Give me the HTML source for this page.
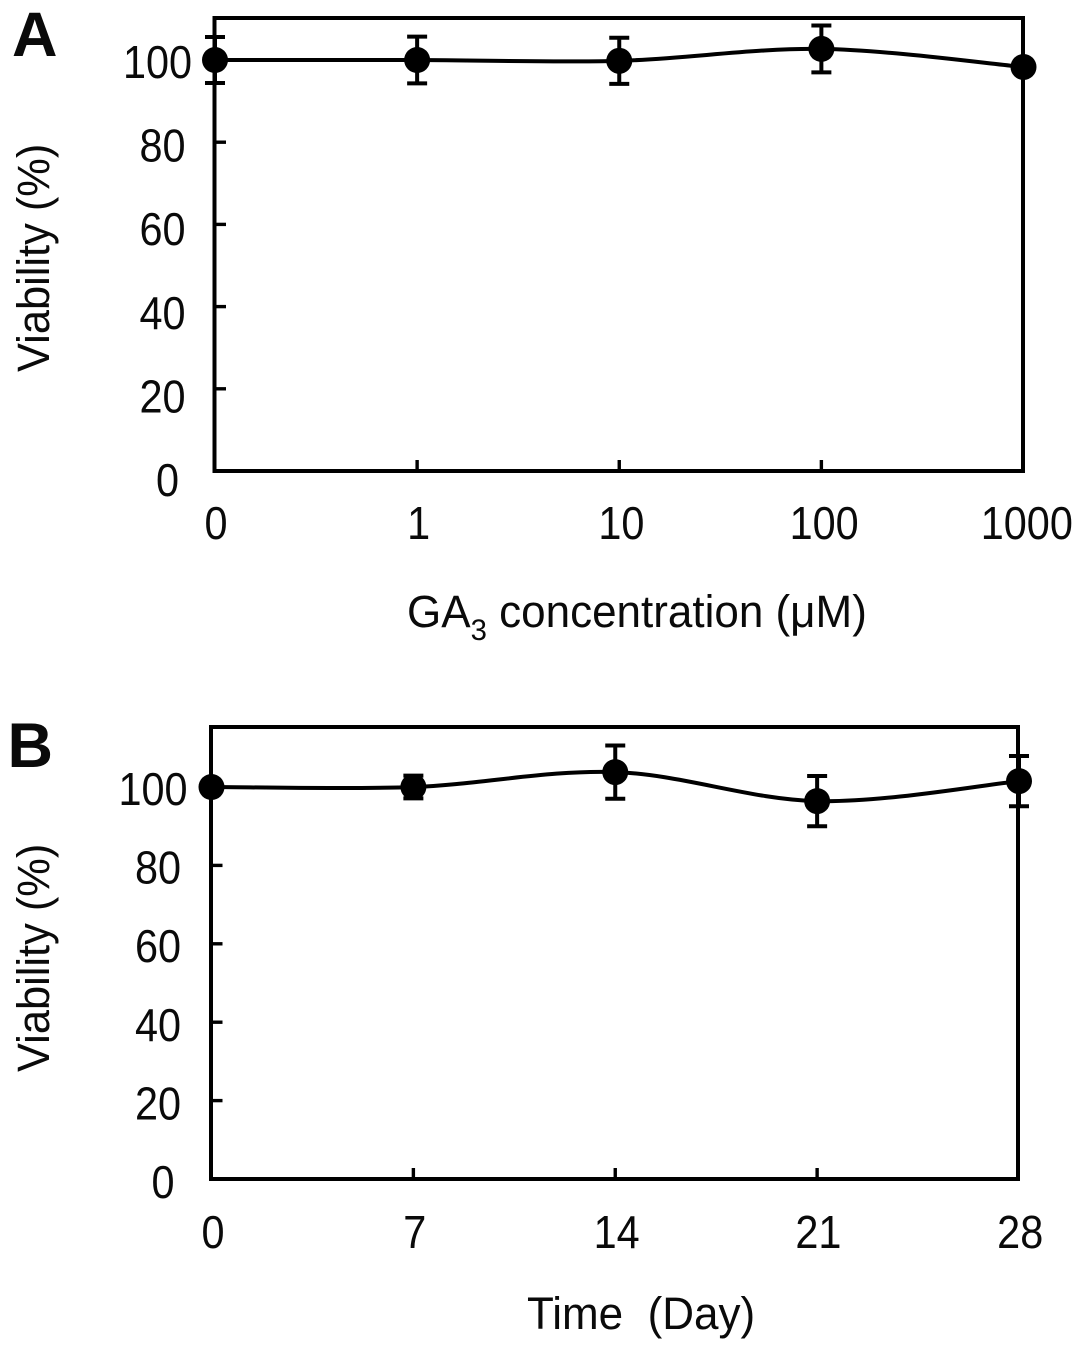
<!DOCTYPE html>
<html lang="en">
<head>
<meta charset="utf-8">
<title>Viability charts</title>
<style>
html,body{margin:0;padding:0;background:#fff;}
svg{display:block;}
text{font-family:"Liberation Sans",sans-serif;fill:#0a0a0a;}
</style>
</head>
<body>
<svg id="figure" xmlns="http://www.w3.org/2000/svg" width="1087" height="1350" viewBox="0 0 1087 1350">
  <rect x="0" y="0" width="1087" height="1350" fill="#fff"/>
  <text x="12" y="56" font-size="63" font-weight="700">A</text>
  <text x="7.5" y="767" font-size="63" font-weight="700">B</text>
  <text transform="translate(49,372) rotate(-90) scale(0.965,1)" font-size="45">Viability (%)</text>
  <text transform="translate(49,1072) rotate(-90) scale(0.965,1)" font-size="45">Viability (%)</text>
  <text transform="translate(407,627) scale(0.978,1)" font-size="45">GA<tspan font-size="30" dy="13">3</tspan><tspan dy="-13"> concentration (μM)</tspan></text>
  <text transform="translate(527,1329) scale(0.978,1)" font-size="45" xml:space="preserve">Time  (Day)</text>
  <rect x="214.5" y="18" width="808.5" height="453" fill="none" stroke="#000" stroke-width="4"/>
  <rect x="211" y="727" width="807" height="452" fill="none" stroke="#000" stroke-width="4"/>
  <g id="panel-a"></g>
  <g id="panel-b"></g>
</svg>
<script>
const panelACategories = ["0", "1", "10", "100", "1000"];
const panelAValues = [100, 100, 99.8, 102.7, 98.3];
const panelAErrors = [5.6, 5.7, 5.6, 5.7, 0];
const panelBCategories = ["0", "7", "14", "21", "28"];
const panelBValues = [100, 100, 103.8, 96.4, 101.5];
const panelBErrors = [0, 2.9, 6.8, 6.4, 6.4];
const yTickValues = [0, 20, 40, 60, 80, 100];

const SVG_NS = "http://www.w3.org/2000/svg";

function create(parent, tag, attrs) {
  const el = document.createElementNS(SVG_NS, tag);
  for (const key in attrs) el.setAttribute(key, attrs[key]);
  parent.appendChild(el);
  return el;
}

function drawPanel(panel) {
  const root = document.getElementById(panel.id);
  const values = panel.values;
  const errors = panel.errors;
  const categories = panel.categories;
  const xStep = (panel.right - panel.left) / (categories.length - 1);
  const xScale = i => panel.left + i * xStep;
  const yScale = v => panel.bottom - v * panel.unit;
  const yLabelBaseline = v => panel.labelZero - v * panel.labelUnit;
  const xLabelCenter = i => panel.xLabelZero + i * panel.xLabelStep;

  yTickValues.forEach(v => {
    if (v > 0) {
      const tick = create(root, "line", {
        x1: panel.left, x2: panel.left + 11,
        y1: yScale(v), y2: yScale(v),
        stroke: "#000", "stroke-width": 3.4
      });
      
      
    }
    const text = String(v);
    const cx = panel.yLabelCenter - 5 * (text.length - 1);
    const label = create(root, "text", {
      transform: "translate(" + cx + "," + yLabelBaseline(v) + ") scale(0.9,1)",
      "font-size": 46,
      "text-anchor": "middle"
    });
    label.textContent = text;
    
    
  });

  categories.forEach((c, i) => {
    if (i > 0 && i < categories.length - 1) {
      const tick = create(root, "line", {
        x1: xScale(i), x2: xScale(i),
        y1: panel.bottom, y2: panel.bottom - 11,
        stroke: "#000", "stroke-width": 3.4
      });
      
      
    }
    const label = create(root, "text", {
      transform: "translate(" + xLabelCenter(i) + "," + panel.xLabelBaseline + ") scale(0.9,1)",
      "font-size": 46,
      "text-anchor": "middle"
    });
    label.textContent = c;
    
    
  });

  values.forEach((v, i) => {
    if (!errors[i]) return;
    const x = xScale(i);
    const top = yScale(v + errors[i]);
    const low = yScale(v - errors[i]);
    const stem = create(root, "line", {
      x1: x, x2: x, y1: top, y2: low, stroke: "#000", "stroke-width": 4
    });
    
    
    const capTop = create(root, "line", {
      x1: x - 10, x2: x + 10, y1: top, y2: top, stroke: "#000", "stroke-width": 4
    });
    
    
    const capLow = create(root, "line", {
      x1: x - 10, x2: x + 10, y1: low, y2: low, stroke: "#000", "stroke-width": 4
    });
    
    
  });

  const pts = values.map((v, i) => [xScale(i), yScale(v)]);
  let d = "M" + pts[0][0] + " " + pts[0][1];
  for (let i = 0; i < pts.length - 1; i++) {
    const p0 = pts[Math.max(i - 1, 0)];
    const p1 = pts[i];
    const p2 = pts[i + 1];
    const p3 = pts[Math.min(i + 2, pts.length - 1)];
    d += " C" + (p1[0] + (p2[0] - p0[0]) / 6) + " " + (p1[1] + (p2[1] - p0[1]) / 6) +
         " " + (p2[0] - (p3[0] - p1[0]) / 6) + " " + (p2[1] - (p3[1] - p1[1]) / 6) +
         " " + p2[0] + " " + p2[1];
  }
  const line = create(root, "path", {
    d: d, fill: "none", stroke: "#000", "stroke-width": 4
  });
  
  

  pts.forEach(p => {
    const marker = create(root, "circle", { cx: p[0], cy: p[1], r: 13, fill: "#000" });
    
    
  });
}

drawPanel({
  id: "panel-a",
  categories: panelACategories,
  values: panelAValues,
  errors: panelAErrors,
  left: 215, right: 1023.5, bottom: 471, unit: 4.11,
  labelZero: 496, labelUnit: 4.18, yLabelCenter: 167.5,
  xLabelZero: 216, xLabelStep: 202.7, xLabelBaseline: 539
});

drawPanel({
  id: "panel-b",
  categories: panelBCategories,
  values: panelBValues,
  errors: panelBErrors,
  left: 211.5, right: 1019, bottom: 1179, unit: 3.92,
  labelZero: 1198, labelUnit: 3.93, yLabelCenter: 163,
  xLabelZero: 213, xLabelStep: 201.8, xLabelBaseline: 1248
});
</script>
</body>
</html>
